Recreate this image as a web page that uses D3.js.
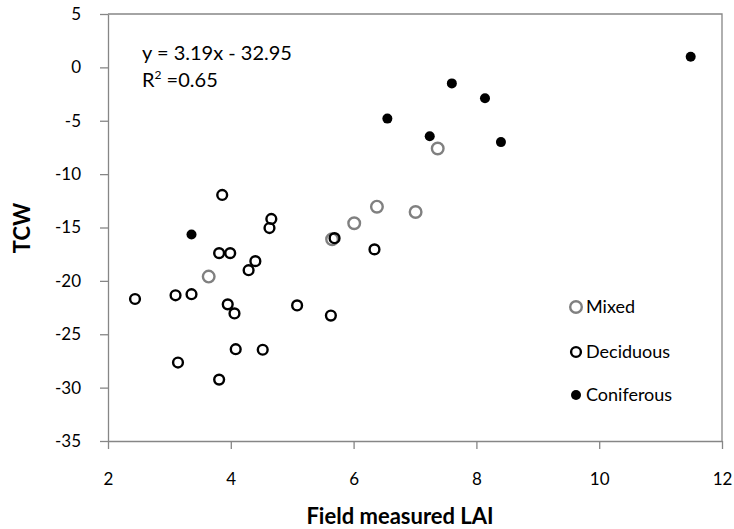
<html>
<head>
	<meta charset="utf-8">
	<style>
		body {
			margin: 0;
			background: white;
		}
		text {
			font-family: Lato, "Noto Sans", sans-serif;
			fill: #000;
		}
		.axis path, .axis line {
			stroke: #868686;
			stroke-width: 1.3px;
		}
	</style>
	<script src="https://d3js.org/d3.v7.min.js"></script>
</head>
<body>
	<script>
		// Data (LAI, TCW)
		var mixedLAI      = [3.64, 5.65, 6.01, 6.38, 7.01, 7.37];
		var mixedTCW      = [-19.6, -16.1, -14.6, -13.05, -13.55, -7.6];
		var deciduousLAI  = [3.86, 4.66, 4.63, 5.69, 6.34, 3.81, 3.99, 4.40, 4.29, 2.44,
		                     3.10, 3.36, 3.95, 4.06, 5.08, 5.63, 4.08, 4.52, 3.14, 3.81];
		var deciduousTCW  = [-11.95, -14.2, -15.05, -16.0, -17.05, -17.4, -17.4, -18.15, -19.0, -21.7,
		                     -21.35, -21.25, -22.2, -23.05, -22.3, -23.25, -26.4, -26.45, -27.65, -29.25];
		var coniferousLAI = [3.36, 6.55, 7.24, 7.60, 8.14, 8.40, 11.49];
		var coniferousTCW = [-15.65, -4.8, -6.45, -1.5, -2.9, -7.0, 1.0];

		var xTicks = [2, 4, 6, 8, 10, 12];
		var yTicks = [-35, -30, -25, -20, -15, -10, -5, 0, 5];
		var legendNames = ["Mixed", "Deciduous", "Coniferous"];
		var equationText = "y = 3.19x - 32.95";
		var r2Value = "0.65";

		var width = 734, height = 529;
		var x = d3.scaleLinear().domain([2, 12]).range([108, 722]);
		var y = d3.scaleLinear().domain([-35, 5]).range([441, 14]);

		var svg = d3.select("body").append("svg")
			.attr("width", width)
			.attr("height", height);

		// frame (top + right)
		svg.append("path")
			.attr("d", "M" + x(2) + "," + y(5) + "H" + x(12) + "V" + y(-35))
			.attr("fill", "none")
			.attr("stroke", "#868686")
			.attr("stroke-width", 1.3);

		// axes, plain hyphen for negatives like the original
		var plain = function(d) { return String(d); };
		svg.append("g").attr("class", "axis")
			.attr("transform", "translate(0," + y(-35) + ")")
			.call(d3.axisBottom(x).tickValues(xTicks).tickFormat(plain).tickSize(8).tickSizeOuter(0).tickPadding(24));
		svg.append("g").attr("class", "axis")
			.attr("transform", "translate(" + x(2) + ",0)")
			.call(d3.axisLeft(y).tickValues(yTicks).tickFormat(plain).tickSize(8).tickSizeOuter(0).tickPadding(19));
		svg.selectAll(".axis text")
			.style("font-size", "17px")
			.style("font-family", "Lato, 'Noto Sans', sans-serif")
			.attr("fill", "#000");

		// axis titles
		svg.append("text")
			.attr("x", 400).attr("y", 524)
			.attr("text-anchor", "middle")
			.style("font-size", "22px").style("font-weight", "bold")
			.text("Field measured LAI");
		svg.append("text")
			.attr("transform", "translate(30,228) rotate(-90)")
			.attr("text-anchor", "middle")
			.style("font-size", "22px").style("font-weight", "bold")
			.text("TCW");

		// regression annotation
		svg.append("text")
			.attr("x", 142).attr("y", 60)
			.style("font-size", "20px")
			.text(equationText);
		var r2 = svg.append("text")
			.attr("x", 142).attr("y", 87)
			.style("font-size", "20px");
		r2.append("tspan").text("R");
		r2.append("tspan").attr("dy", -8).style("font-size", "12px").text("2");
		r2.append("tspan").attr("dy", 8).text(" =" + r2Value);

		// series
		var series = [
			{ name: legendNames[0], lai: mixedLAI, tcw: mixedTCW, r: 5.8, fill: "none", stroke: "#808080", sw: 2.4 },
			{ name: legendNames[1], lai: deciduousLAI, tcw: deciduousTCW, r: 4.9, fill: "none", stroke: "#000", sw: 2.4 },
			{ name: legendNames[2], lai: coniferousLAI, tcw: coniferousTCW, r: 5, fill: "#000", stroke: "none", sw: 0 }
		];

		series.forEach(function(s) {
			var pts = s.lai.map(function(v, i) { return [v, s.tcw[i]]; });
			svg.append("g").selectAll("circle").data(pts).enter().append("circle")
				.attr("cx", function(d) { return x(d[0]); })
				.attr("cy", function(d) { return y(d[1]); })
				.attr("r", s.r)
				.attr("fill", s.fill)
				.attr("stroke", s.stroke)
				.attr("stroke-width", s.sw);
		});

		// legend
		var legendY = [307, 352, 395];
		series.forEach(function(s, i) {
			var lg = svg.append("g").attr("transform", "translate(576," + legendY[i] + ")");
			lg.append("circle")
				.attr("r", s.r)
				.attr("fill", s.fill)
				.attr("stroke", s.stroke)
				.attr("stroke-width", s.sw);
			lg.append("text")
				.attr("x", 10).attr("dy", "0.35em")
				.style("font-size", "18px")
				.text(s.name);
		});
	</script>
</body>
</html>
